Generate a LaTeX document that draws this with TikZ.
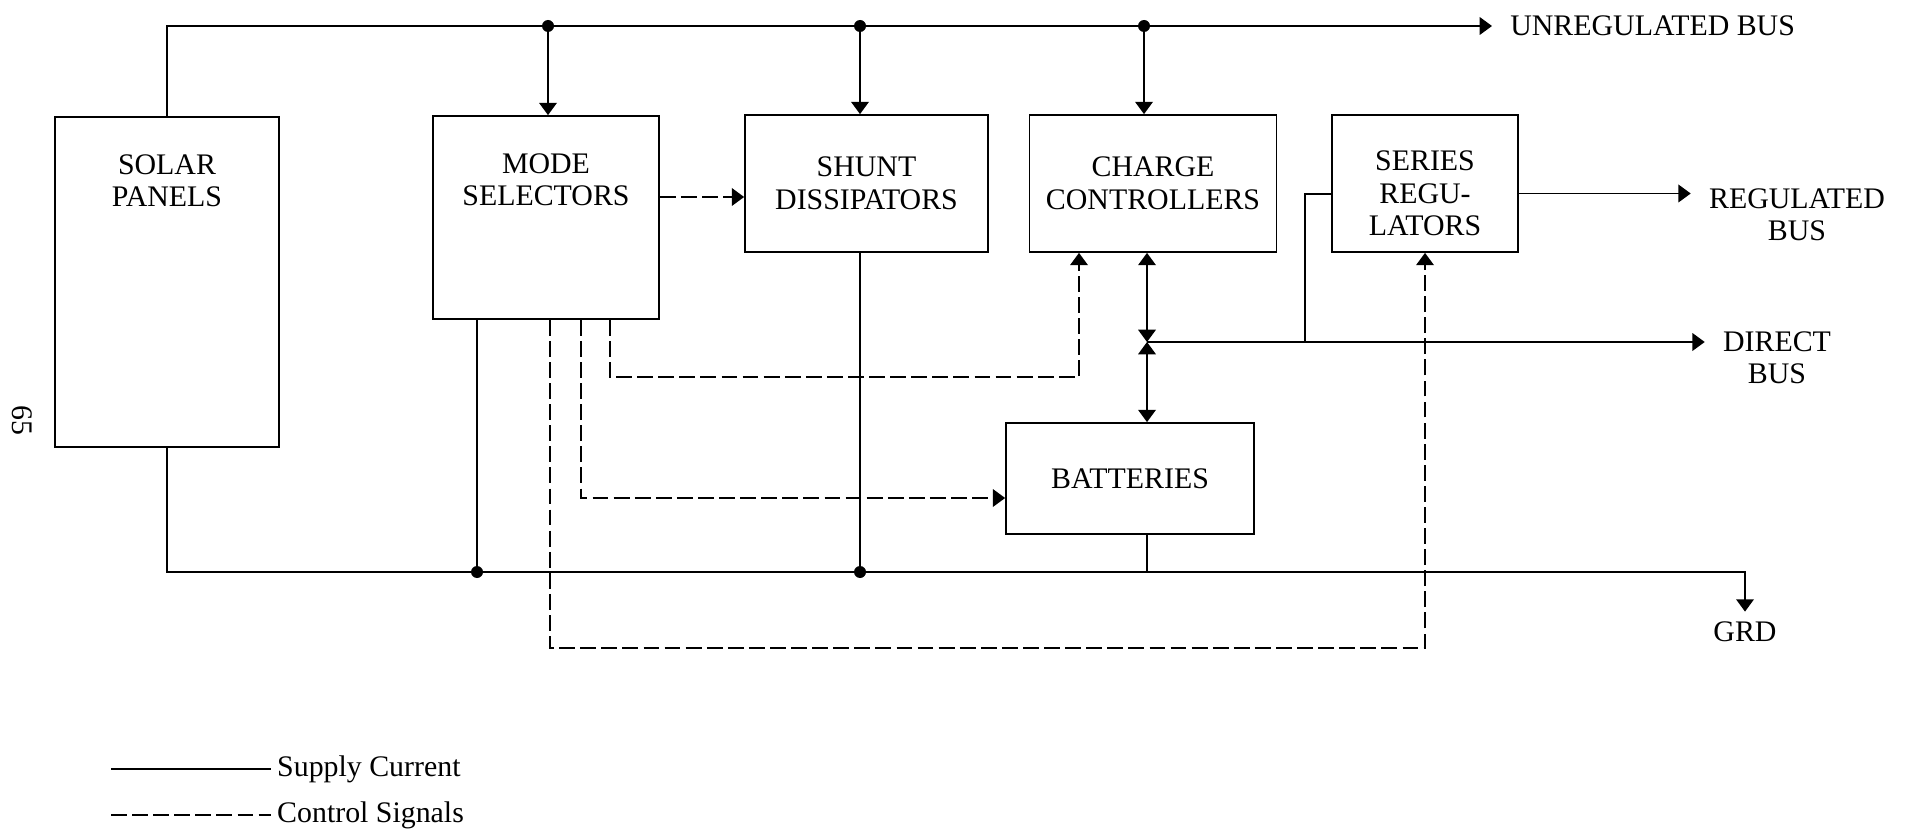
\documentclass[tikz,border=0pt]{standalone}
\usepackage{fontspec}
\setmainfont{Liberation Serif}
\usetikzlibrary{arrows.meta, positioning}
\tikzset{
  blk/.style={draw, line width=1pt, align=center},
  lbl/.style={align=center, inner xsep=0.36cm},
  supply/.style={line width=1pt},
  signal/.style={line width=1pt, dash pattern=on 9pt off 3pt}
}

\begin{document}
\begin{tikzpicture}[x=0.02cm, y=-0.02cm, >={Triangle[length=7pt,width=10pt]},
                    font=\fontsize{17}{18.5}\selectfont]
  \useasboundingbox (0,0) rectangle (1910,831);

  % Blocks
  \node[blk, minimum width=4.48cm, minimum height=6.6cm] (solar) at (167,282) {};
  \node[align=center, below=0.64cm of solar.north] (solartxt) {SOLAR\\PANELS};
  \node[blk, minimum width=4.52cm, minimum height=4.06cm] (mode) at (546,217.5) {};
  \node[align=center, below=0.64cm of mode.north] (modetxt) {MODE\\SELECTORS};
  \node[blk, minimum width=4.86cm, minimum height=2.74cm] (shunt) at (866.5,183.5) {SHUNT\\DISSIPATORS};
  \node[blk, minimum width=4.94cm, minimum height=2.74cm] (charge) at (1153,183.5) {CHARGE\\CONTROLLERS};
  \node[blk, minimum width=3.72cm, minimum height=2.74cm] (series) at (1425,183.5) {};
  \node[align=center] (seriestxt) at ([yshift=-0.2cm]series.center) {SERIES\\REGU-\\LATORS};
  \node[blk, minimum width=4.96cm, minimum height=2.22cm] (batt) at (1130,478.5) {BATTERIES};

  % Bus labels
  \node[lbl, anchor=west] (unreg) at (1492,26) {UNREGULATED BUS};
  \node[lbl] (regbus) at (1797,215) {REGULATED\\BUS};
  \node[lbl] (dbus) at (1777,358) {DIRECT\\BUS};
  \node[lbl, inner ysep=0.2cm] (grd) at (1745,632) {GRD};
  \node[rotate=-90] (pgno) at (22,420) {65};

  % Unregulated bus
  \coordinate (ms) at (548,26);
  \coordinate (sh) at (860,26);
  \coordinate (cc) at (1144,26);
  \draw[supply,->] (solar.north) |- (unreg.west);
  \foreach \p/\b in {ms/mode, sh/shunt, cc/charge} {
    \fill (\p) circle (0.12cm);
    \draw[supply,->] (\p) -- (\p |- \b.north);
  }

  % Ground return
  \coordinate (g1) at (477,572);
  \coordinate (g2) at (860,572);
  \draw[supply,->] (solar.south) -- (solar.south |- g1) -| (grd.north);
  \draw[supply] (g1 |- mode.south) -- (g1);
  \draw[supply] (g2 |- shunt.south) -- (g2);
  \fill (g1) circle (0.12cm);
  \fill (g2) circle (0.12cm);

  % Battery junction and direct bus
  \coordinate (jn) at (1147,342);
  \draw[supply,<->] (jn |- charge.south) -- (jn);
  \draw[supply,<->] (jn) -- (jn |- batt.north);
  \draw[supply] (jn |- batt.south) -- (jn |- g1);
  \draw[supply,->] (jn) -- (jn -| dbus.west);
  \coordinate (tap) at (1305,342);
  \coordinate (srin) at (1305,194);
  \draw[supply] (tap) -- (srin) -- (srin -| series.west);

  % Regulated bus
  \coordinate (rgo) at ([yshift=-0.2cm]series.east);
  \draw[supply,->] (rgo) -- (rgo -| regbus.west);

  % Control signals
  \coordinate (s0) at (700,197);
  \draw[signal,->] (mode.east |- s0) -- (shunt.west |- s0);
  \coordinate (s1) at (610,377);
  \coordinate (s1e) at (1079,377);
  \draw[signal,->] (s1 |- mode.south) -- (s1) -- (s1e) -- (s1e |- charge.south);
  \coordinate (s2) at (581,498);
  \draw[signal,->] (s2 |- mode.south) |- (batt.west |- s2);
  \coordinate (s3) at (550,648);
  \draw[signal,->] (s3 |- mode.south) -- (s3) -| (series.south);

  % Legend
  \coordinate (lg1) at (111,769);
  \node[anchor=west] (lsup) at (271,769) {Supply Current};
  \draw[supply] (lg1) -- (lsup.west);
  \coordinate (lg2) at (111,815);
  \node[anchor=west] (lsig) at (271,815) {Control Signals};
  \draw[signal] (lg2) -- (lsig.west);
\end{tikzpicture}
\end{document}
